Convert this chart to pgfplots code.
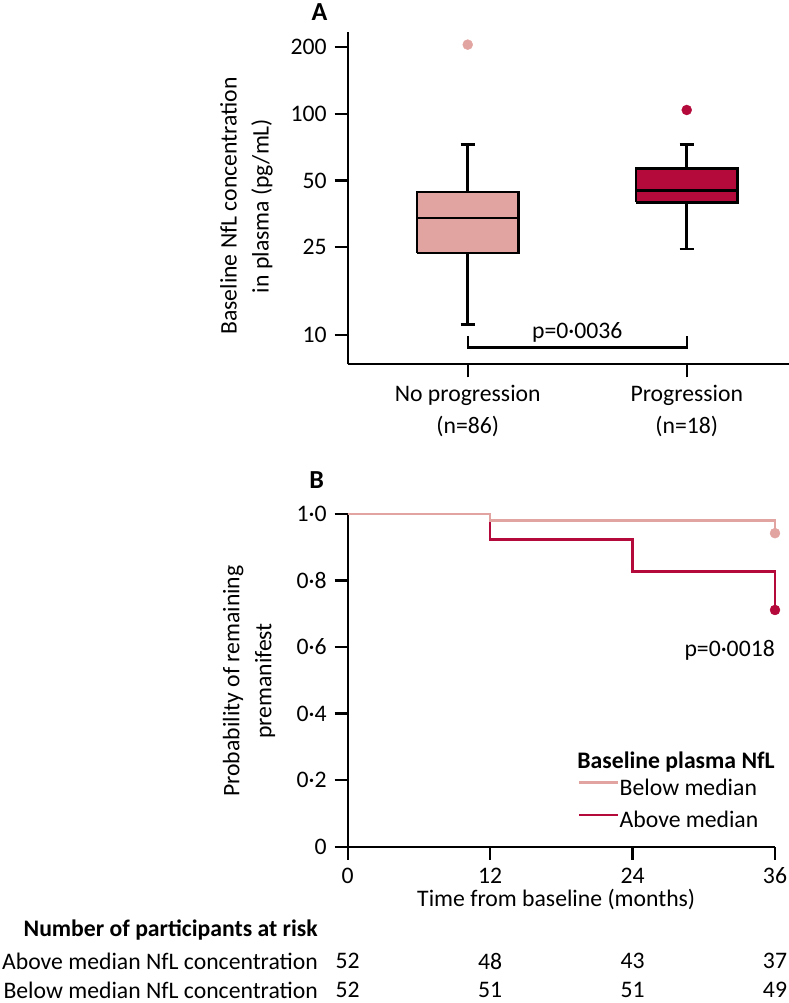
\documentclass[border=0pt]{standalone}
\usepackage{fontspec}
\setmainfont{Carlito}
\usepackage{pgfplots}
\pgfplotsset{compat=1.18}
\definecolor{lpink}{HTML}{E2A4A0}
\definecolor{dred}{HTML}{B3093B}
\begin{document}
\fontsize{23.7}{32}\selectfont
\begin{tikzpicture}
\useasboundingbox (0pt,0pt) rectangle (789pt,1003pt);
\pgfplotsset{
  every axis/.append style={
    font=\fontsize{23.7}{32}\selectfont,
    scale only axis,
    axis line style={-, line width=2.3pt},
    tick style={line width=2.3pt, black},
    tick align=outside,
    major tick length=13pt,
    /pgf/number format/assume math mode=true,
    clip=false,
    axis x line*=bottom, axis y line*=left,
  }
}
% ---------- Panel A ----------
\node[font=\fontsize{26}{30}\selectfont\bfseries] at (319.5pt,991.3pt) {A};
\begin{axis}[
  at={(347.7pt,638.7pt)}, anchor=south west,
  width=441.3pt, height=332pt,
  ymode=log, ymin=7.39, ymax=233.9,
  xmin=0.452, xmax=2.467,
  ytick={10,25,50,100,200}, yticklabels={10,25,50,100,200},
  xtick={1,2},
  xticklabels={No progression\\(n=86), Progression\\(n=18)},
  xticklabel style={align=center},
  ylabel={Baseline NfL concentration\\in plasma (pg/mL)},
  ylabel style={align=center, at={(axis description cs:-0.2293,0.477)}, anchor=center},
]
% No progression: whiskers 11.2 / 72.6, quartiles 23.5 / 44.3, median 33.8, outlier 205.7
\addplot[black, line width=2.5pt] coordinates {(1,11.2) (1,23.5)};
\addplot[black, line width=2.5pt] coordinates {(1,44.3) (1,72.6)};
\addplot[black, line width=2.5pt] coordinates {(0.9673,11.2) (1.0327,11.2)};
\addplot[black, line width=2.5pt] coordinates {(0.9673,72.6) (1.0327,72.6)};
\addplot[draw=black, fill=lpink, line width=2.5pt] coordinates {(0.7678,23.5) (1.2322,23.5) (1.2322,44.3) (0.7678,44.3) (0.7678,23.5)};
\addplot[black, line width=2.5pt] coordinates {(0.7678,33.8) (1.2322,33.8)};
\addplot[only marks, mark=*, mark size=5pt, lpink] coordinates {(1,205.7)};
% Progression: whiskers 24.5 / 72.6, quartiles 39.9 / 56.8, median 45.2, outlier 104.2
\addplot[black, line width=2.5pt] coordinates {(2,24.5) (2,39.9)};
\addplot[black, line width=2.5pt] coordinates {(2,56.8) (2,72.6)};
\addplot[black, line width=2.5pt] coordinates {(1.9673,24.5) (2.0327,24.5)};
\addplot[black, line width=2.5pt] coordinates {(1.9673,72.6) (2.0327,72.6)};
\addplot[draw=black, fill=dred, line width=2.5pt] coordinates {(1.7678,39.9) (2.2322,39.9) (2.2322,56.8) (1.7678,56.8) (1.7678,39.9)};
\addplot[black, line width=2.5pt] coordinates {(1.7678,45.2) (2.2322,45.2)};
\addplot[only marks, mark=*, mark size=5pt, dred] coordinates {(2,104.2)};
\draw[line width=2.3pt] (axis cs:1,9.93) -- (axis cs:1,8.79) -- (axis cs:2,8.79) -- (axis cs:2,9.93);
\node[inner sep=0pt, anchor=center] at (axis cs:1.5,10.35) {p=0·0036};
\end{axis}
% ---------- Panel B ----------
\node[font=\fontsize{26}{30}\selectfont\bfseries] at (316.7pt,523pt) {B};
\begin{axis}[
  at={(347.7pt,156.3pt)}, anchor=south west,
  width=427.3pt, height=332.7pt,
  xmin=0, xmax=36, ymin=0, ymax=1,
  xtick={0,12,24,36},
  ytick={0,0.2,0.4,0.6,0.8,1},
  yticklabels={0,0·2,0·4,0·6,0·8,1·0},
  xlabel={Time from baseline (months)},
  xlabel style={at={(axis description cs:0.488,0)}, anchor=center, yshift=-52.3pt},
  ylabel={Probability of remaining\\premanifest},
  ylabel style={align=center, at={(axis description cs:-0.231,0.498)}, anchor=center},
  legend cell align=left,
  legend image code/.code={\draw[#1, line width=2.5pt] (0pt,7.5pt) -- (39pt,7.5pt);},
  legend style={draw=none, fill=none, at={(0.539,0.3036)}, anchor=north west,
    inner sep=0pt, row sep=9.5pt,
    nodes={inner sep=0pt, text height=17pt, text depth=6pt},
    /tikz/every even column/.append style={column sep=7pt}},
]
\addplot[dred, line width=2.3pt, const plot, forget plot]
  coordinates {(0,1) (12,0.9231) (24,0.8269) (36,0.8269) (36,0.7115)};
\addplot[lpink, line width=2.3pt, const plot, forget plot]
  coordinates {(0,1) (12,0.9808) (36,0.9808) (36,0.9423)};
\addplot[only marks, mark=*, mark size=5pt, dred, forget plot] coordinates {(36,0.7115)};
\addplot[only marks, mark=*, mark size=5pt, lpink, forget plot] coordinates {(36,0.9423)};
\addlegendimage{empty legend}
\addlegendentry{\hspace{-42.3pt}\raisebox{-5.5pt}{\textbf{Baseline plasma NfL}}}
\addlegendimage{lpink}
\addlegendentry{Below median}
\addlegendimage{dred}
\addlegendentry{Above median}
\node[inner sep=0pt, anchor=east] at (axis cs:36,0.59) {p=0·0018};
% risk table
\node[inner sep=0pt, anchor=center] at (axis cs:0,-0.3442) {52};
\node[inner sep=0pt, anchor=center] at (axis cs:12,-0.3442) {48};
\node[inner sep=0pt, anchor=center] at (axis cs:24,-0.3442) {43};
\node[inner sep=0pt, anchor=center] at (axis cs:36,-0.3442) {37};
\node[inner sep=0pt, anchor=center] at (axis cs:0,-0.4313) {52};
\node[inner sep=0pt, anchor=center] at (axis cs:12,-0.4313) {51};
\node[inner sep=0pt, anchor=center] at (axis cs:24,-0.4313) {51};
\node[inner sep=0pt, anchor=center] at (axis cs:36,-0.4313) {49};
\end{axis}
\node[inner sep=0pt, anchor=east, font=\fontsize{23.7}{32}\selectfont\bfseries] at (318pt,73pt) {Number of participants at risk};
\node[inner sep=0pt, anchor=east] at (318pt,41.8pt) {Above median NfL concentration};
\node[inner sep=0pt, anchor=east] at (318pt,12.8pt) {Below median NfL concentration};
\end{tikzpicture}
\end{document}
